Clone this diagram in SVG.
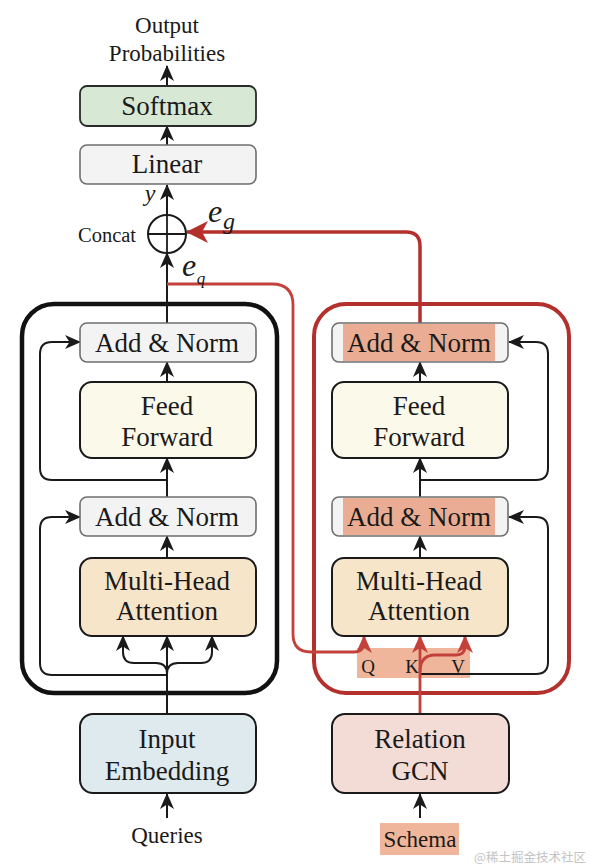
<svg xmlns="http://www.w3.org/2000/svg" width="590" height="868" viewBox="0 0 590 868">
<style>
text{font-family:"Liberation Serif","Times New Roman",serif;fill:#1a1a1a;text-anchor:middle}
.lbl{font-size:27px}
.sm{font-size:23px}
.it{font-style:italic}
.grayBox{fill:#f3f3f3;stroke:#6f6f6f;stroke-width:1.6}
.blk{fill:none;stroke:#1a1a1a;stroke-width:2}
.red{fill:none;stroke:#b3302c;stroke-width:3.5}
.redThin{fill:none;stroke:#c4413b;stroke-width:2.8}
</style>
<defs>
<marker id="ah" viewBox="0 0 16 14" markerWidth="16" markerHeight="14" refX="15" refY="7" orient="auto" markerUnits="userSpaceOnUse">
<path d="M0,0 L16,7 L0,14 L4.5,7 z" fill="#1a1a1a"/>
</marker>
<marker id="ahR" viewBox="0 0 22 22" markerWidth="22" markerHeight="22" refX="21" refY="11" orient="auto" markerUnits="userSpaceOnUse">
<path d="M0,0 L22,11 L0,22 L6,11 z" fill="#b3302c"/>
</marker>
<marker id="ahR2" viewBox="0 0 18 16" markerWidth="18" markerHeight="16" refX="17" refY="8" orient="auto" markerUnits="userSpaceOnUse">
<path d="M0,0 L18,8 L0,16 L5,8 z" fill="#c4413b"/>
</marker>
</defs>

<!-- outer encoder blocks -->
<g id="leftBlock">
<rect x="22" y="304" width="255" height="389" rx="32" fill="none" stroke="#111" stroke-width="4.5"/>
</g>
<g id="rightBlock">
<rect x="314" y="304" width="255" height="389" rx="32" fill="none" stroke="#b3302c" stroke-width="4"/>
</g>

<!-- QKV label strip -->
<g id="qkv">
<rect x="357" y="648" width="113" height="30" fill="#efb69b"/>
<text x="368" y="673" style="font-size:19px">Q</text>
<text x="412" y="673" style="font-size:19px">K</text>
<text x="458" y="673" style="font-size:19px">V</text>
</g>

<g id="connectors">
<!-- top column -->
<line x1="167" y1="86" x2="167" y2="66" class="blk" marker-end="url(#ah)"/>
<line x1="167" y1="145" x2="167" y2="126" class="blk" marker-end="url(#ah)"/>
<line x1="167" y1="215" x2="167" y2="185" class="blk" marker-end="url(#ah)"/>
<line x1="167" y1="323" x2="167" y2="253" class="blk" marker-end="url(#ah)"/>
<!-- left block internal -->
<line x1="167" y1="382" x2="167" y2="362" class="blk" marker-end="url(#ah)"/>
<line x1="167" y1="497" x2="167" y2="458" class="blk" marker-end="url(#ah)"/>
<line x1="167" y1="558" x2="167" y2="536" class="blk" marker-end="url(#ah)"/>
<path d="M167,480 H52 Q40,480 40,468 V354 Q40,342 52,342 H80" class="blk" marker-end="url(#ah)"/>
<path d="M167,675 H52 Q40,675 40,663 V529 Q40,517 52,517 H80" class="blk" marker-end="url(#ah)"/>
<line x1="167" y1="714" x2="167" y2="636" class="blk" marker-end="url(#ah)"/>
<path d="M167,674 Q167,663 156,663 H134 Q123,663 123,652 V636" class="blk" marker-end="url(#ah)"/>
<path d="M167,674 Q167,663 178,663 H201 Q212,663 212,652 V636" class="blk" marker-end="url(#ah)"/>
<line x1="167" y1="818" x2="167" y2="794" class="blk" marker-end="url(#ah)"/>
<!-- right block internal -->
<line x1="420" y1="382" x2="420" y2="362" class="blk" marker-end="url(#ah)"/>
<line x1="420" y1="497" x2="420" y2="458" class="blk" marker-end="url(#ah)"/>
<line x1="420" y1="558" x2="420" y2="536" class="blk" marker-end="url(#ah)"/>
<path d="M420,480 H536 Q548,480 548,468 V354 Q548,342 536,342 H509" class="blk" marker-end="url(#ah)"/>
<path d="M420,674 H536 Q548,674 548,662 V529 Q548,517 536,517 H509" class="blk" marker-end="url(#ah)"/>
<line x1="420" y1="818" x2="420" y2="794" class="blk" marker-end="url(#ah)"/>
<!-- red connectors -->
<path d="M420,323 V246 Q420,232 406,232 H187" class="red" marker-end="url(#ahR)"/>
<path d="M167,284 H272 Q293,284 293,305 V634 Q293,652 311,652 H354 Q364,652 364,642 V636" class="redThin" marker-end="url(#ahR2)"/>
<line x1="420" y1="714" x2="420" y2="636" class="redThin" marker-end="url(#ahR2)"/>
<path d="M420,672 Q420,655 435,655 H456 Q465,655 465,646 V636" class="redThin" marker-end="url(#ahR2)"/>
</g>

<g id="outputLabel">
<text x="167" y="33" class="sm">Output</text>
<text x="167" y="61" class="sm">Probabilities</text>
</g>
<g id="softmax">
<rect x="80" y="86" width="176" height="40" rx="7" fill="#d7e9d5" stroke="#2a2a2a" stroke-width="1.8"/>
<text x="167" y="115" class="lbl">Softmax</text>
</g>
<g id="linear">
<rect x="80" y="145" width="176" height="39" rx="7" class="grayBox"/>
<text x="167" y="173" class="lbl">Linear</text>
</g>
<g id="concat">
<circle cx="167" cy="234" r="19" fill="#fff" stroke="#1a1a1a" stroke-width="2"/>
<line x1="148" y1="234" x2="186" y2="234" stroke="#1a1a1a" stroke-width="1.8"/>
<line x1="167" y1="215" x2="167" y2="253" stroke="#1a1a1a" stroke-width="1.8"/>
<text x="107" y="242" style="font-size:20.5px">Concat</text>
<text x="150" y="201" class="it" style="font-size:24px">y</text>
<text x="215" y="222" class="it" style="font-size:32px">e</text>
<text x="229" y="229" class="it" style="font-size:24px">g</text>
<text x="189" y="276" class="it" style="font-size:32px">e</text>
<text x="201" y="284" class="it" style="font-size:17px">q</text>
</g>

<!-- left encoder -->
<g id="addNormL1">
<rect x="80" y="323" width="176" height="39" rx="7" class="grayBox"/>
<text x="167" y="352" class="lbl">Add &amp; Norm</text>
</g>
<g id="feedForwardL">
<rect x="80" y="382" width="176" height="76" rx="12" fill="#fbf9ea" stroke="#1a1a1a" stroke-width="2"/>
<text x="167" y="415" class="lbl">Feed</text>
<text x="167" y="446" class="lbl">Forward</text>
</g>
<g id="addNormL2">
<rect x="80" y="497" width="176" height="39" rx="7" class="grayBox"/>
<text x="167" y="526" class="lbl">Add &amp; Norm</text>
</g>
<g id="mhaL">
<rect x="80" y="558" width="176" height="78" rx="12" fill="#f7e5c9" stroke="#1a1a1a" stroke-width="2"/>
<text x="167" y="590" class="lbl">Multi-Head</text>
<text x="167" y="620" class="lbl">Attention</text>
</g>

<!-- right encoder -->
<g id="addNormR1">
<rect x="332" y="323" width="176" height="39" rx="7" class="grayBox"/>
<rect x="343" y="324" width="152" height="37" fill="#eaad93"/>
<text x="419" y="352" class="lbl">Add &amp; Norm</text>
</g>
<g id="feedForwardR">
<rect x="332" y="382" width="176" height="76" rx="12" fill="#fbf9ea" stroke="#1a1a1a" stroke-width="2"/>
<text x="419" y="415" class="lbl">Feed</text>
<text x="419" y="446" class="lbl">Forward</text>
</g>
<g id="addNormR2">
<rect x="332" y="497" width="176" height="39" rx="7" class="grayBox"/>
<rect x="343" y="498" width="152" height="37" fill="#eaad93"/>
<text x="419" y="526" class="lbl">Add &amp; Norm</text>
</g>
<g id="mhaR">
<rect x="332" y="558" width="176" height="78" rx="12" fill="#f7e5c9" stroke="#1a1a1a" stroke-width="2"/>
<text x="419" y="590" class="lbl">Multi-Head</text>
<text x="419" y="620" class="lbl">Attention</text>
</g>

<!-- inputs -->
<g id="inputEmbedding">
<rect x="80" y="714" width="176" height="79" rx="13" fill="#deeaed" stroke="#1a1a1a" stroke-width="2"/>
<text x="167" y="748" class="lbl">Input</text>
<text x="167" y="780" class="lbl">Embedding</text>
</g>
<g id="queries">
<text x="167" y="843" style="font-size:23px">Queries</text>
</g>
<g id="relationGCN">
<rect x="332" y="714" width="177" height="79" rx="13" fill="#f3dcd6" stroke="#1a1a1a" stroke-width="2"/>
<text x="420" y="748" class="lbl">Relation</text>
<text x="420" y="780" class="lbl">GCN</text>
</g>
<g id="schema">
<rect x="380" y="823" width="79" height="32" fill="#efb69b"/>
<text x="420" y="847" style="font-size:23px">Schema</text>
</g>
<text x="530" y="862" style="font-family:'Noto Sans CJK SC','Noto Sans',sans-serif;font-size:12.5px;fill:#c4c4c4">@稀土掘金技术社区</text>
</svg>
